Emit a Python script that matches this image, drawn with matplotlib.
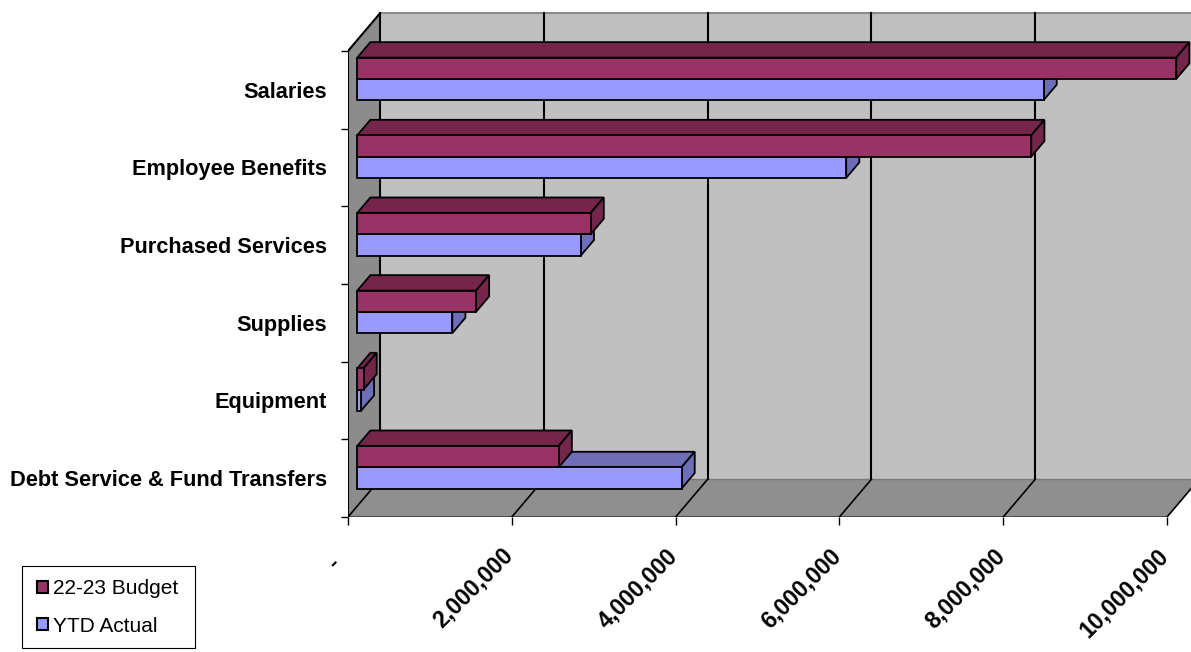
import numpy as np
import matplotlib.pyplot as plt
from matplotlib.patches import Polygon, Patch, Rectangle
from matplotlib.transforms import blended_transform_factory, ScaledTranslation

plt.rcParams['font.family'] = ['Liberation Sans', 'DejaVu Sans']

# data
categories = ["Salaries", "Employee Benefits", "Purchased Services",
              "Supplies", "Equipment", "Debt Service & Fund Transfers"]
budget = [10_000_000, 8_230_000, 2_850_000, 1_450_000, 77_000, 2_460_000]
ytd_actual = [8_380_000, 5_970_000, 2_730_000, 1_160_000, 45_000, 3_960_000]
series_names = ["22-23 Budget", "YTD Actual"]
xticks = [0, 2_000_000, 4_000_000, 6_000_000, 8_000_000, 10_000_000]

# colours (front face, shaded face)
budget_cols = ("#993366", "#732649")
ytd_cols = ("#9999FF", "#6E6EB8")

# fake 3d: offset of the back wall in data units, bar depth fractions
DX = 0.3907e6
DY = 0.4854
F0, F1 = 0.29, 0.70
BAR_H = 0.274

W, H = 1191, 652
fig = plt.figure(figsize=(W / 100, H / 100), dpi=100)
ax = fig.add_axes([348 / W, 1 - 517 / H, 843 / W, 517 / H])
xmax = 843 / 81.9 * 1e6
ymin, ymax = -0.5, -0.5 + 517 / 77.67
ax.set_xlim(0, xmax)
ax.set_ylim(ymin, ymax)
for s in ax.spines.values():
    s.set_visible(False)

n = len(categories)
ypos = np.arange(n)[::-1]   # first category on top
top = n - 0.5
xend = xticks[-1]

# walls and floor
ax.add_patch(Polygon([(DX, ymin + DY), (xmax, ymin + DY), (xmax, top + DY), (DX, top + DY)],
                     fc="#C0C0C0", ec="none", zorder=0))
ax.add_patch(Polygon([(0, ymin), (DX, ymin + DY), (DX, top + DY), (0, top)],
                     fc="#8C8C8C", ec="none", zorder=0))
ax.add_patch(Polygon([(0, ymin), (xend, ymin), (xend + DX, ymin + DY), (DX, ymin + DY)],
                     fc="#8F8F8F", ec="none", zorder=0))
ax.plot([DX, xmax], [top + DY] * 2, color="#8A8A8A", lw=1.5, zorder=1)
ax.plot([DX, xmax], [ymin + DY] * 2, color="#7A7A7A", lw=1, zorder=1)
ax.plot([0, xend], [ymin, ymin], color="#4D4D4D", lw=1.5, zorder=1)

# gridlines on the back wall and diagonals on the floor
for v in xticks[1:]:
    ax.plot([v + DX] * 2, [ymin + DY, top + DY], color="k", lw=1.5, zorder=1)
for v in xticks:
    ax.plot([v, v + DX], [ymin, ymin + DY], color="k", lw=1.2, zorder=1)
ax.plot([0, 0], [ymin, top], color="k", lw=1.5, zorder=1)
ax.plot([0, DX], [top, top + DY], color="k", lw=1.5, zorder=1)
ax.plot([DX, DX], [ymin + DY, top + DY], color="k", lw=1.5, zorder=1)


def bar3d(v, y0, y1, cols, z):
    ax_, ay = F0 * DX, F0 * DY
    bx, by = F1 * DX, F1 * DY
    top_face = [(ax_, y1 + ay), (v + ax_, y1 + ay), (v + bx, y1 + by), (bx, y1 + by)]
    side_face = [(v + ax_, y0 + ay), (v + bx, y0 + by), (v + bx, y1 + by), (v + ax_, y1 + ay)]
    front_face = [(ax_, y0 + ay), (v + ax_, y0 + ay), (v + ax_, y1 + ay), (ax_, y1 + ay)]
    for pts, c in ((top_face, cols[1]), (side_face, cols[1]), (front_face, cols[0])):
        ax.add_patch(Polygon(pts, fc=c, ec="k", lw=1.3, joinstyle="miter", zorder=z))


for i, y in enumerate(ypos):
    bar3d(ytd_actual[i], y - BAR_H, y, ytd_cols, 2)
    bar3d(budget[i], y, y + BAR_H, budget_cols, 3)

# category axis
ax.set_yticks(ypos, labels=categories, fontweight="bold", fontsize=15.7)
ax.tick_params(axis="y", which="major", length=0, pad=15)
ax.set_yticks(np.arange(-0.5, n), minor=True)
ax.tick_params(axis="y", which="minor", length=5, width=1, color="k")

# value axis: tick marks from matplotlib, rotated labels placed by hand
ax.set_xticks(xticks)
ax.tick_params(axis="x", length=6, width=1, color="k", labelbottom=False)
xtrans = blended_transform_factory(ax.transData, ax.transAxes)
for v in xticks:
    if v == 0:
        label, off = "-", (-14.4, -25.2)
    else:
        label, off = f"{v:,}", (-7.2, -19.4)
    ax.text(v, 0, label, transform=xtrans + ScaledTranslation(off[0] / 72, off[1] / 72, fig.dpi_scale_trans),
            rotation=45, rotation_mode="anchor", ha="right", va="top",
            fontsize=16.6, fontweight="bold", clip_on=False)

# legend with an Excel-like box
handles = [Patch(fc=budget_cols[0], ec="k", lw=1.5), Patch(fc=ytd_cols[0], ec="k", lw=1.5)]
fig.legend(handles, series_names, loc="center left",
           bbox_to_anchor=(37 / W, 1 - 607.5 / H), frameon=False,
           fontsize=15, handlelength=0.55, handleheight=0.55,
           handletextpad=0.2, labelspacing=0.87, borderpad=0, borderaxespad=0)
fig.add_artist(Rectangle((22 / W, 1 - 648 / H), 173 / W, 82 / H, transform=fig.transFigure,
                         fill=False, ec="black", lw=0.8))

fig.savefig("out.png", dpi=100)
